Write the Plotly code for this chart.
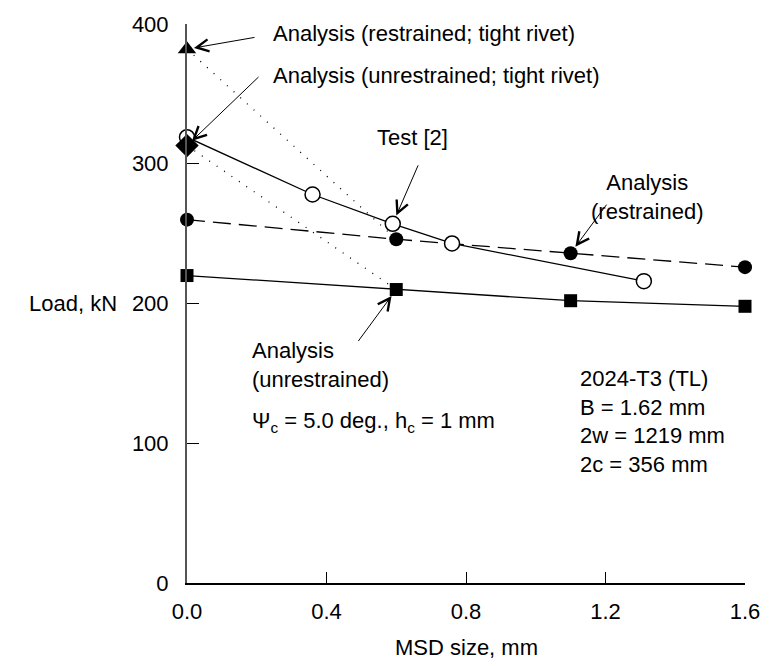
import plotly.graph_objects as go

# ---- data ----
test_x = [0.0, 0.36, 0.59, 0.76, 1.31]
test_y = [319, 278, 257, 243, 216]

restr_x = [0.0, 0.6, 1.1, 1.6]
restr_y = [260, 246, 236, 226]

unrestr_x = [0.0, 0.6, 1.1, 1.6]
unrestr_y = [220, 210, 202, 198]

tight_restr_x = [0.0]
tight_restr_y = [382]

tight_unrestr_x = [0.0]
tight_unrestr_y = [313]

x_ticks = [0.0, 0.4, 0.8, 1.2, 1.6]
x_tick_labels = ["0.0", "0.4", "0.8", "1.2", "1.6"]
y_ticks = [0, 100, 200, 300, 400]
y_tick_labels = ["0", "100", "200", "300", "400"]

FONT = "Liberation Sans, Arial, sans-serif"
FS = 22

fig = go.Figure()

# dotted connectors: tight rivet -> analysis at 0.6 mm
fig.add_trace(go.Scatter(x=[tight_restr_x[0], restr_x[1]], y=[tight_restr_y[0], restr_y[1]],
                         mode="lines", line=dict(color="black", width=1.3, dash="1px,8px"),
                         cliponaxis=False, showlegend=False, hoverinfo="skip"))
fig.add_trace(go.Scatter(x=[tight_unrestr_x[0], unrestr_x[1]], y=[tight_unrestr_y[0], unrestr_y[1]],
                         mode="lines", line=dict(color="black", width=1.3, dash="1px,8px"),
                         cliponaxis=False, showlegend=False, hoverinfo="skip"))

# analysis unrestrained (squares)
fig.add_trace(go.Scatter(x=unrestr_x, y=unrestr_y, mode="lines+markers",
                         line=dict(color="black", width=1.3),
                         marker=dict(symbol="square", size=13, color="black"),
                         cliponaxis=False, showlegend=False))
# analysis restrained (filled circles, dashed)
fig.add_trace(go.Scatter(x=restr_x, y=restr_y, mode="lines+markers",
                         line=dict(color="black", width=1.3, dash="18px,8px"),
                         marker=dict(symbol="circle", size=14, color="black"),
                         cliponaxis=False, showlegend=False))
# test (open circles)
fig.add_trace(go.Scatter(x=test_x, y=test_y, mode="lines+markers",
                         line=dict(color="black", width=1.3),
                         marker=dict(symbol="circle", size=15, color="white",
                                     line=dict(color="black", width=1.5)),
                         cliponaxis=False, showlegend=False))
# tight rivet points
fig.add_trace(go.Scatter(x=tight_restr_x, y=tight_restr_y, mode="markers",
                         marker=dict(symbol="triangle-up", size=16, color="black"),
                         cliponaxis=False, showlegend=False))
fig.add_trace(go.Scatter(x=tight_unrestr_x, y=tight_unrestr_y, mode="markers",
                         marker=dict(symbol="diamond", size=18, color="black"),
                         cliponaxis=False, showlegend=False))

annotations = []

def txt(x, y, text, xanchor="left", align="left", xref="x", yref="y"):
    annotations.append(dict(x=x, y=y, xref=xref, yref=yref, text=text, showarrow=False,
                            xanchor=xanchor, yanchor="middle", align=align,
                            font=dict(family=FONT, size=FS, color="black")))

def arrow(x, y, ax, ay, standoff=7):
    annotations.append(dict(x=x, y=y, xref="x", yref="y", text="", showarrow=True,
                            ax=ax, ay=ay, arrowhead=5, arrowsize=2.4, arrowwidth=1,
                            arrowcolor="black", standoff=standoff))

txt(0.241, 393.5, "Analysis (restrained; tight rivet)")
txt(0.241, 363.5, "Analysis (unrestrained; tight rivet)")
txt(0.646, 318.5, "Test [2]", xanchor="center", align="center")
txt(1.32, 276.5, "Analysis<br>(restrained)", xanchor="center", align="center")
txt(0.181, 156, "Analysis<br>(unrestrained)")
txt(0.181, 115.5, "Ψ<sub>c</sub> = 5.0 deg., h<sub>c</sub> = 1 mm")
txt(1.121, 115.5, "2024-T3 (TL)<br>B = 1.62 mm<br>2w = 1219 mm<br>2c = 356 mm")
txt(-0.205, 200, "Load, kN", xanchor="center", align="center", xref="paper")
annotations.append(dict(x=0.5, y=-0.116, xref="paper", yref="paper", text="MSD size, mm",
                        showarrow=False, xanchor="center", yanchor="middle",
                        font=dict(family=FONT, size=FS, color="black")))

arrow(tight_restr_x[0], tight_restr_y[0], 69, -12)
arrow(tight_unrestr_x[0], tight_unrestr_y[0], 73, -70)
arrow(test_x[2], test_y[2], 26, -60, standoff=9)
arrow(restr_x[2], restr_y[2], 37, -50, standoff=8)
arrow(unrestr_x[1], unrestr_y[1], -39, 53, standoff=8)

fig.update_layout(
    width=772, height=666,
    margin=dict(l=187, r=20, t=19, b=83, pad=0),
    paper_bgcolor="white", plot_bgcolor="white",
    font=dict(family=FONT, size=FS, color="black"),
    annotations=annotations,
    xaxis=dict(range=[0, 1.6], tickvals=x_ticks, ticktext=x_tick_labels,
               ticks="inside", ticklen=11, tickwidth=1.2, tickcolor="black",
               showline=True, linecolor="black", linewidth=1.5,
               showgrid=False, zeroline=False, ticklabelstandoff=8,
               tickfont=dict(family=FONT, size=FS, color="black")),
    yaxis=dict(range=[0, 400], tickvals=y_ticks, ticktext=y_tick_labels,
               ticks="inside", ticklen=12, tickwidth=1.2, tickcolor="black",
               showline=True, linecolor="#555555", linewidth=2,
               showgrid=False, zeroline=False, ticklabelstandoff=12,
               tickfont=dict(family=FONT, size=FS, color="black")),
)

fig.write_html("out.html")
